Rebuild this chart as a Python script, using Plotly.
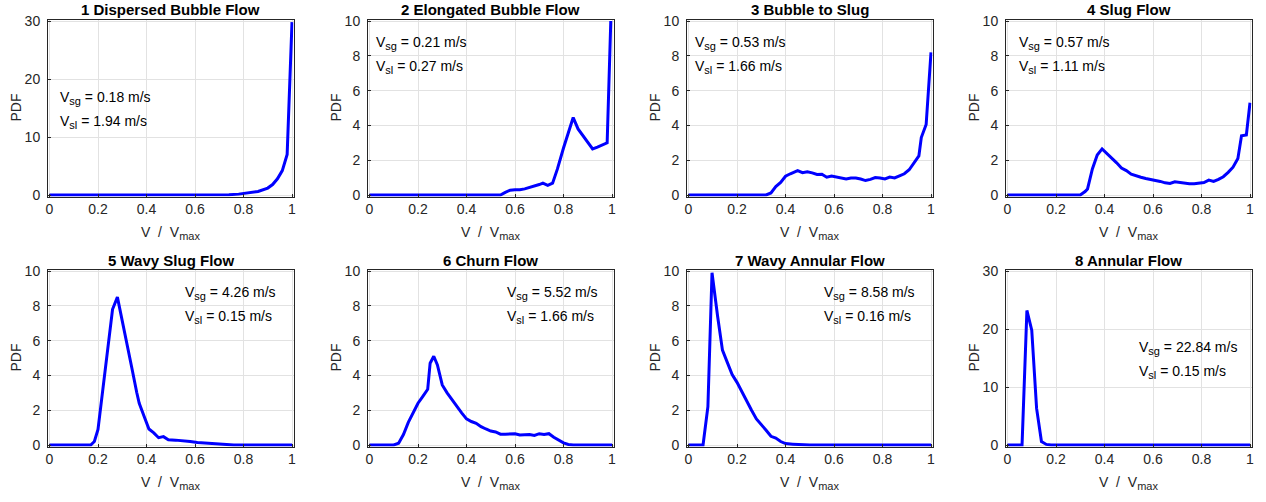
import plotly.graph_objects as go

# ---------------- data ----------------
titles = ["1 Dispersed Bubble Flow", "2 Elongated Bubble Flow", "3 Bubble to Slug", "4 Slug Flow",
          "5 Wavy Slug Flow", "6 Churn Flow", "7 Wavy Annular Flow", "8 Annular Flow"]
vsg = ["0.18", "0.21", "0.53", "0.57", "4.26", "5.52", "8.58", "22.84"]
vsl = ["1.94", "0.27", "1.66", "1.11", "0.15", "1.66", "0.16", "0.15"]
ymax = [30, 10, 10, 10, 10, 10, 10, 30]

x_ticks = [0, 0.2, 0.4, 0.6, 0.8, 1]
x_tick_labels = ["0", "0.2", "0.4", "0.6", "0.8", "1"]
y_ticks_30 = [0, 10, 20, 30]
y_ticks_10 = [0, 2, 4, 6, 8, 10]

x1 = [0, 0.7, 0.74, 0.78, 0.82, 0.86, 0.9, 0.92, 0.94, 0.96, 0.98, 1.0]
pdf1 = [0, 0, 0.05, 0.15, 0.35, 0.6, 1.2, 1.8, 2.8, 4.2, 7.0, 29.8]

x2 = [0, 0.54, 0.56, 0.58, 0.6, 0.62, 0.64, 0.66, 0.68, 0.7, 0.715, 0.735, 0.755, 0.775,
      0.8, 0.82, 0.84, 0.86, 0.88, 0.9, 0.92, 0.94, 0.96, 0.98, 0.995]
pdf2 = [0, 0, 0.15, 0.28, 0.3, 0.3, 0.35, 0.42, 0.5, 0.6, 0.68, 0.55, 0.68, 1.5,
        2.7, 3.6, 4.45, 3.8, 3.4, 3.0, 2.65, 2.75, 2.88, 3.0, 10.0]

x3 = [0, 0.32, 0.34, 0.36, 0.38, 0.40, 0.42, 0.45, 0.47, 0.49, 0.51, 0.53, 0.55, 0.57, 0.59,
      0.61, 0.63, 0.65, 0.67, 0.69, 0.71, 0.73, 0.75, 0.77, 0.79, 0.81, 0.83, 0.85, 0.87,
      0.89, 0.91, 0.93, 0.95, 0.96, 0.98, 1.0]
pdf3 = [0, 0, 0.12, 0.48, 0.72, 1.08, 1.22, 1.4, 1.28, 1.34, 1.27, 1.18, 1.19, 1.02, 1.09,
        1.03, 0.98, 0.92, 0.98, 0.98, 0.92, 0.83, 0.9, 1.0, 0.98, 0.92, 1.03, 0.98, 1.1,
        1.22, 1.45, 1.85, 2.25, 3.3, 4.05, 8.2]

x4 = [0, 0.30, 0.32, 0.33, 0.35, 0.37, 0.39, 0.41, 0.43, 0.45, 0.47, 0.49, 0.51, 0.53, 0.55,
      0.57, 0.59, 0.61, 0.63, 0.65, 0.67, 0.69, 0.71, 0.73, 0.75, 0.77, 0.79, 0.81, 0.83,
      0.85, 0.87, 0.89, 0.91, 0.93, 0.95, 0.965, 0.985, 1.0]
pdf4 = [0, 0, 0.2, 0.35, 1.5, 2.3, 2.65, 2.4, 2.1, 1.85, 1.55, 1.4, 1.2, 1.1, 1.02,
        0.95, 0.9, 0.86, 0.78, 0.7, 0.66, 0.76, 0.72, 0.7, 0.65, 0.65, 0.7, 0.72, 0.86,
        0.78, 0.9, 1.05, 1.3, 1.6, 2.1, 3.4, 3.45, 5.3]

x5 = [0, 0.17, 0.185, 0.2, 0.22, 0.24, 0.26, 0.28, 0.30, 0.32, 0.34, 0.36, 0.37, 0.39, 0.41,
      0.43, 0.45, 0.47, 0.49, 0.52, 0.55, 0.58, 0.61, 0.64, 0.68, 0.72, 0.76, 1.0]
pdf5 = [0, 0, 0.2, 0.9, 3.2, 5.5, 7.8, 8.5, 7.2, 5.8, 4.4, 3.0, 2.4, 1.65, 0.92,
        0.7, 0.42, 0.48, 0.3, 0.28, 0.26, 0.2, 0.15, 0.12, 0.07, 0.03, 0.0, 0.0]

x6 = [0, 0.10, 0.12, 0.14, 0.16, 0.18, 0.20, 0.22, 0.24, 0.25, 0.265, 0.28, 0.30, 0.32, 0.34,
      0.36, 0.38, 0.40, 0.42, 0.44, 0.46, 0.48, 0.50, 0.52, 0.54, 0.56, 0.58, 0.60, 0.62,
      0.64, 0.66, 0.68, 0.70, 0.72, 0.74, 0.76, 0.78, 0.80, 0.82, 0.84, 1.0]
pdf6 = [0, 0, 0.1, 0.6, 1.3, 1.9, 2.4, 2.8, 3.2, 4.7, 5.1, 4.6, 3.45, 3.0, 2.6,
        2.2, 1.85, 1.5, 1.35, 1.25, 1.05, 0.92, 0.8, 0.75, 0.62, 0.62, 0.65, 0.65, 0.58,
        0.6, 0.6, 0.55, 0.65, 0.6, 0.65, 0.45, 0.28, 0.12, 0.03, 0.0, 0.0]

x7 = [0, 0.06, 0.08, 0.097, 0.12, 0.14, 0.16, 0.18, 0.20, 0.22, 0.24, 0.26, 0.28, 0.30,
      0.32, 0.34, 0.36, 0.38, 0.40, 0.43, 0.46, 0.5, 1.0]
pdf7 = [0, 0, 2.2, 9.9, 7.4, 5.45, 4.75, 4.05, 3.6, 3.05, 2.5, 2.0, 1.5, 1.2,
        0.85, 0.5, 0.4, 0.2, 0.08, 0.05, 0.02, 0.0, 0.0]

x8 = [0, 0.06, 0.08, 0.10, 0.12, 0.14, 0.16, 0.18, 1.0]
pdf8 = [0, 0, 23.2, 19.8, 6.3, 0.6, 0.1, 0.0, 0.0]

xs = [x1, x2, x3, x4, x5, x6, x7, x8]
ys = [pdf1, pdf2, pdf3, pdf4, pdf5, pdf6, pdf7, pdf8]

# text placement (fractions of each axes box)
lab_x = [0.04, 0.023, 0.025, 0.045, 0.55, 0.56, 0.55, 0.535]
lab_y_sg = [0.557, 0.87, 0.87, 0.87, 0.87, 0.87, 0.87, 0.557]
lab_y_sl = [0.42, 0.73, 0.73, 0.73, 0.73, 0.73, 0.73, 0.42]

# ---------------- layout geometry ----------------
W, H = 1266, 502
col_left = [49.5, 369.5, 688.5, 1007.5]
plot_w = 242.5
row_top = [21, 271]
plot_h = 174
PAD = 1.5
FONT = "Liberation Sans, Arial, Helvetica, sans-serif"
AXC = "#262626"
SUB = "<sub><span style='font-size:11px'>%s</span></sub>"

fig = go.Figure()
layout = dict(
    width=W, height=H, margin=dict(l=0, r=0, t=0, b=0, autoexpand=False),
    paper_bgcolor="white", plot_bgcolor="white", showlegend=False,
    font=dict(family=FONT, color=AXC, size=14),
)
annotations = []

for i in range(8):
    n = i + 1
    r, c = divmod(i, 4)
    sfx = "" if n == 1 else str(n)
    x0 = col_left[c]
    top = row_top[r]
    bot = top + plot_h
    xpad = PAD / plot_w
    ypad = PAD / plot_h * ymax[i]

    fig.add_trace(go.Scatter(
        x=xs[i], y=ys[i], mode="lines", xaxis="x" + sfx, yaxis="y" + sfx,
        line=dict(color="#0000FF", width=3), hoverinfo="x+y"))

    axis_common = dict(
        automargin=False,
        showline=True, linecolor=AXC, linewidth=1, mirror=True,
        ticks="inside", ticklen=3, tickcolor=AXC, tickwidth=1,
        showgrid=True, gridcolor="#e2e2e2", gridwidth=1, zeroline=False,
        tickfont=dict(family=FONT, size=14, color=AXC),
    )
    layout["xaxis" + sfx] = dict(
        axis_common,
        domain=[(x0 - PAD) / W, (x0 + plot_w + PAD) / W],
        range=[-xpad, 1 + xpad], anchor="y" + sfx,
        tickvals=x_ticks, ticktext=x_tick_labels,
    )
    yt = y_ticks_30 if ymax[i] == 30 else y_ticks_10
    layout["yaxis" + sfx] = dict(
        axis_common,
        domain=[1 - (bot + PAD) / H, 1 - (top - PAD) / H],
        range=[-ypad, ymax[i] + ypad], anchor="x" + sfx,
        tickvals=yt, ticktext=[str(v) for v in yt], ticklabelstandoff=4,
    )

    cx = (x0 + plot_w / 2) / W
    # title
    annotations.append(dict(
        text=titles[i], xref="paper", yref="paper",
        x=cx, y=1 - (top - 11) / H, xanchor="center", yanchor="middle",
        showarrow=False, font=dict(family=FONT, size=15, color="#000000", weight="bold")))
    # x label
    annotations.append(dict(
        text="V  /  V" + SUB % "max", xref="paper", yref="paper",
        x=cx, y=1 - (bot + 38) / H, xanchor="center", yanchor="middle",
        showarrow=False, font=dict(family=FONT, size=14, color=AXC)))
    # y label
    annotations.append(dict(
        text="PDF", xref="paper", yref="paper", textangle=-90,
        x=(x0 - 34) / W, y=1 - (top + plot_h / 2) / H, xanchor="center", yanchor="middle",
        showarrow=False, font=dict(family=FONT, size=14, color=AXC)))
    # velocity labels
    for txt, yy in (("V" + SUB % "sg" + " = %s m/s" % vsg[i], lab_y_sg[i]),
                    ("V" + SUB % "sl" + " = %s m/s" % vsl[i], lab_y_sl[i])):
        annotations.append(dict(
            text=txt, xref="x%s domain" % sfx, yref="y%s domain" % sfx,
            x=lab_x[i], y=yy, xanchor="left", yanchor="middle",
            showarrow=False, font=dict(family=FONT, size=14, color="#000000")))

layout["annotations"] = annotations
fig.update_layout(**layout)
fig.write_html("out.html", config={"displayModeBar": False},
               post_script="document.body.style.margin='0px';")
